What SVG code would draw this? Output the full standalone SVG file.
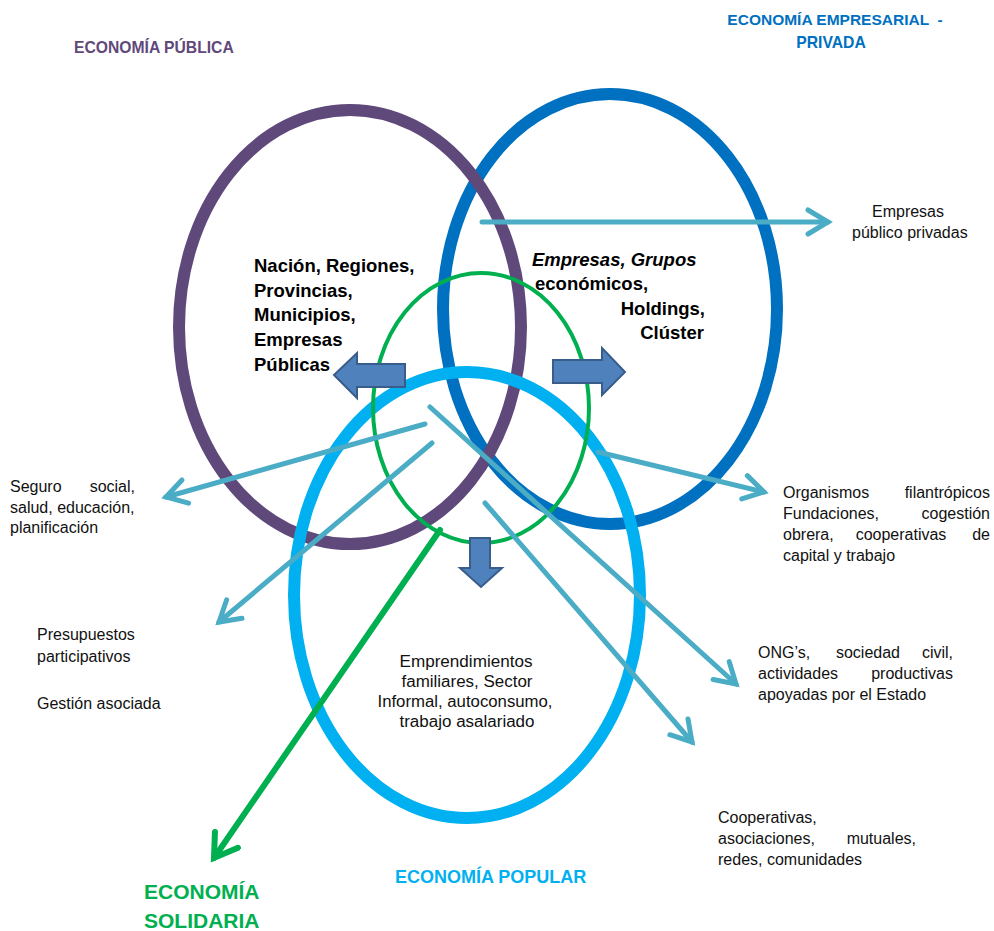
<svg xmlns="http://www.w3.org/2000/svg" width="994" height="931" viewBox="0 0 994 931">
<style>
  .t { font-family: "Liberation Sans", Arial, sans-serif; font-size: 16px; fill: #111; }
  .b { font-family: "Liberation Sans", Arial, sans-serif; font-size: 18.5px; font-weight: bold; fill: #000; }
  .h { font-family: "Liberation Sans", Arial, sans-serif; font-weight: bold; }
  .ring { fill: none; }
  .conn { fill: none; stroke: #4BACC6; stroke-width: 5; stroke-linecap: round; }
  .blk { fill: #4F81BD; stroke: #385D8A; stroke-width: 2; stroke-linejoin: miter; }
</style>
<defs>
  <marker id="tealHead" viewBox="0 0 30 30" refX="25" refY="15" markerWidth="30" markerHeight="30" markerUnits="userSpaceOnUse" orient="auto">
    <path d="M5,3 L25,15 L5,27" fill="none" stroke="#4BACC6" stroke-width="5" stroke-linecap="round" stroke-linejoin="miter"/>
  </marker>
  <marker id="greenHead" viewBox="0 0 34 34" refX="28" refY="17" markerWidth="34" markerHeight="34" markerUnits="userSpaceOnUse" orient="auto">
    <path d="M6,3 L28,17 L6,31" fill="none" stroke="#00B050" stroke-width="6" stroke-linecap="round" stroke-linejoin="miter"/>
  </marker>
</defs>
<rect width="994" height="931" fill="#ffffff"/>

<g id="privada">
  <ellipse class="ring" cx="610" cy="309" rx="167" ry="215" stroke="#0070C0" stroke-width="12"/>
</g>
<g id="publica">
  <ellipse class="ring" cx="350" cy="327" rx="171" ry="217" stroke="#5F497A" stroke-width="12"/>
</g>
<g id="popular">
  <ellipse class="ring" cx="467" cy="595" rx="173" ry="223" stroke="#00B0F0" stroke-width="12"/>
</g>
<g id="solidaria">
  <ellipse class="ring" cx="481" cy="408" rx="108" ry="135" stroke="#00B050" stroke-width="4"/>
</g>

<g id="connectors">
  <line class="conn" x1="482" y1="222" x2="828" y2="222" marker-end="url(#tealHead)"/>
  <line class="conn" x1="425" y1="424" x2="166" y2="497" marker-end="url(#tealHead)"/>
  <line class="conn" x1="432" y1="443" x2="219" y2="622" marker-end="url(#tealHead)"/>
  <line class="conn" x1="430" y1="407" x2="736" y2="684" marker-end="url(#tealHead)"/>
  <line class="conn" x1="598" y1="452" x2="764" y2="492" marker-end="url(#tealHead)"/>
  <line class="conn" x1="485" y1="503" x2="692" y2="742" marker-end="url(#tealHead)"/>
  <line x1="440" y1="530" x2="214" y2="858" stroke="#00B050" stroke-width="6" stroke-linecap="round" marker-end="url(#greenHead)"/>
  <polygon class="blk" points="334,375 357,353 357,364 405,364 405,387 357,387 357,398"/>
  <polygon class="blk" points="553,360 602,360 602,348 625,372 602,395 602,383 553,383"/>
  <polygon class="blk" points="470,538 490,538 490,568 502,568 481,587 460,568 470,568"/>
</g>

<g id="label-publica">
  <text class="h" x="74" y="53" font-size="15.7" fill="#5F497A">ECONOMÍA PÚBLICA</text>
</g>
<g id="label-privada">
  <text class="h" x="835" y="25" font-size="15.5" fill="#0070C0" text-anchor="middle" xml:space="preserve">ECONOMÍA EMPRESARIAL  -</text>
  <text class="h" x="831" y="48" font-size="15.7" fill="#0070C0" text-anchor="middle">PRIVADA</text>
</g>
<g id="label-popular">
  <text class="h" x="395" y="883" font-size="18" fill="#00B0F0">ECONOMÍA POPULAR</text>
</g>
<g id="label-solidaria">
  <text class="h" x="144" y="899" font-size="21" fill="#00B050">ECONOMÍA</text>
  <text class="h" x="144" y="928" font-size="21" fill="#00B050">SOLIDARIA</text>
</g>

<g id="text-publica">
  <text class="b" x="254" y="272">Nación, Regiones,</text>
  <text class="b" x="254" y="297">Provincias,</text>
  <text class="b" x="254" y="321">Municipios,</text>
  <text class="b" x="254" y="346">Empresas</text>
  <text class="b" x="254" y="371">Públicas</text>
</g>
<g id="text-privada">
  <text class="b" x="532" y="266" font-style="italic">Empresas, Grupos</text>
  <text class="b" x="535" y="290">económicos,</text>
  <text class="b" x="705" y="315" text-anchor="end">Holdings,</text>
  <text class="b" x="704" y="339" text-anchor="end">Clúster</text>
</g>
<g id="text-popular">
  <text class="t" x="466" y="667" font-size="16.5" text-anchor="middle" textLength="133" lengthAdjust="spacingAndGlyphs">Emprendimientos</text>
  <text class="t" x="467" y="687" font-size="16.5" text-anchor="middle" textLength="131" lengthAdjust="spacingAndGlyphs">familiares, Sector</text>
  <text class="t" x="465" y="707" font-size="16.5" text-anchor="middle" textLength="175" lengthAdjust="spacingAndGlyphs">Informal, autoconsumo,</text>
  <text class="t" x="467" y="727" font-size="16.5" text-anchor="middle" textLength="135" lengthAdjust="spacingAndGlyphs">trabajo asalariado</text>
</g>

<g id="text-empresas-pp">
  <text class="t" x="908" y="217" text-anchor="middle">Empresas</text>
  <text class="t" x="852" y="238">público privadas</text>
</g>
<g id="text-seguro">
  <text class="t"><tspan x="10" y="492">Seguro</tspan><tspan x="135" y="492" text-anchor="end">social,</tspan></text>
  <text class="t" x="10" y="513">salud, educación,</text>
  <text class="t" x="10" y="533">planificación</text>
</g>
<g id="text-presupuestos">
  <text class="t" x="37" y="640">Presupuestos</text>
  <text class="t" x="37" y="662">participativos</text>
  <text class="t" x="37" y="709">Gestión asociada</text>
</g>
<g id="text-organismos">
  <text class="t"><tspan x="783" y="498">Organismos</tspan><tspan x="990" y="498" text-anchor="end">filantrópicos</tspan></text>
  <text class="t"><tspan x="783" y="519">Fundaciones,</tspan><tspan x="990" y="519" text-anchor="end">cogestión</tspan></text>
  <text class="t"><tspan x="783" y="540">obrera,</tspan><tspan x="901" y="540" text-anchor="middle">cooperativas</tspan><tspan x="990" y="540" text-anchor="end">de</tspan></text>
  <text class="t" x="783" y="561">capital y trabajo</text>
</g>
<g id="text-ong">
  <text class="t"><tspan x="758" y="658">ONG’s,</tspan><tspan x="868" y="658" text-anchor="middle">sociedad</tspan><tspan x="953" y="658" text-anchor="end">civil,</tspan></text>
  <text class="t"><tspan x="758" y="679">actividades</tspan><tspan x="953" y="679" text-anchor="end">productivas</tspan></text>
  <text class="t" x="758" y="700">apoyadas por el Estado</text>
</g>
<g id="text-cooperativas">
  <text class="t" x="718" y="823">Cooperativas,</text>
  <text class="t"><tspan x="718" y="844">asociaciones,</tspan><tspan x="916" y="844" text-anchor="end">mutuales,</tspan></text>
  <text class="t" x="718" y="865">redes, comunidades</text>
</g>
</svg>
